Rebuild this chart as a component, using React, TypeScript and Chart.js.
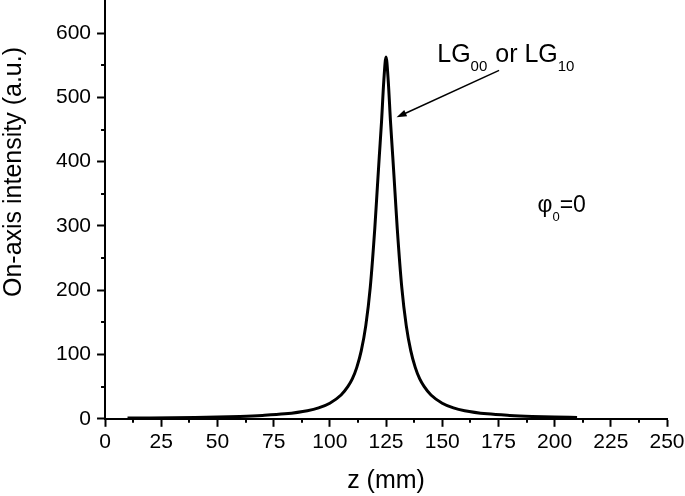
import React, { useEffect, useRef } from 'react';
import { Chart, registerables } from 'chart.js';

Chart.register(...registerables);

// ---- data ----
const zValues = [10, 20, 30, 40, 50, 60, 70, 80, 90, 95, 100, 105, 108, 110, 112, 114, 116, 118, 120, 121, 122, 123, 124, 125, 126, 127, 128, 129, 130, 132, 134, 136, 138, 140, 142, 145, 150, 155, 160, 170, 180, 190, 200, 210];
const intensity = [1.2, 1.4, 1.75, 2.2, 2.8, 3.7, 5.2, 7.7, 12.6, 17, 24.3, 37, 50, 62, 80, 106, 145, 205, 296, 352, 408, 462, 525, 563, 525, 462, 408, 352, 296, 205, 145, 106, 80, 62, 50, 37, 24.3, 17, 12.6, 7.7, 5.2, 3.7, 2.8, 2.2];

const xMinorTicks = [12.5, 37.5, 62.5, 87.5, 112.5, 137.5, 162.5, 187.5, 212.5, 237.5];
const yMinorTicks = [50, 150, 250, 350, 450, 550];

const xTitle = 'z (mm)';
const yTitle = 'On-axis intensity (a.u.)';

// annotation anchors in data units
const arrowFrom = { x: 175.3, y: 542 };
const arrowTo = { x: 129.7, y: 469 };
const lgLabelAt = { x: 147.8, y: 555 };
const phiLabelAt = { x: 192.4, y: 322 };

const FONT = '"Liberation Sans", Arial, Helvetica, sans-serif';

const decorPlugin = {
  id: 'decor',
  afterDraw(chart: any) {
    const ctx = chart.ctx as CanvasRenderingContext2D;
    const xs = chart.scales.x;
    const ys = chart.scales.y;
    const area = chart.chartArea;
    ctx.save();
    ctx.strokeStyle = '#000';
    ctx.fillStyle = '#000';
    ctx.lineWidth = 2;
    // minor ticks
    ctx.beginPath();
    for (const v of xMinorTicks) {
      const px = Math.round(xs.getPixelForValue(v));
      ctx.moveTo(px, area.bottom);
      ctx.lineTo(px, area.bottom + 4);
    }
    for (const v of yMinorTicks) {
      const py = Math.round(ys.getPixelForValue(v));
      ctx.moveTo(area.left, py);
      ctx.lineTo(area.left - 4, py);
    }
    ctx.stroke();

    // y title
    ctx.save();
    ctx.translate(14, 172);
    ctx.rotate(-Math.PI / 2);
    ctx.font = `25px ${FONT}`;
    ctx.textAlign = 'center';
    ctx.textBaseline = 'middle';
    ctx.fillText(yTitle, 0, 0);
    ctx.restore();

    // arrow
    const x1 = xs.getPixelForValue(arrowFrom.x);
    const y1 = ys.getPixelForValue(arrowFrom.y);
    const x2 = xs.getPixelForValue(arrowTo.x);
    const y2 = ys.getPixelForValue(arrowTo.y);
    const ang = Math.atan2(y2 - y1, x2 - x1);
    const headLen = 10;
    const headW = 3.5;
    ctx.lineWidth = 1.5;
    ctx.beginPath();
    ctx.moveTo(x1, y1);
    ctx.lineTo(x2 - Math.cos(ang) * headLen * 0.8, y2 - Math.sin(ang) * headLen * 0.8);
    ctx.stroke();
    ctx.beginPath();
    ctx.moveTo(x2, y2);
    ctx.lineTo(x2 - Math.cos(ang) * headLen - Math.sin(ang) * headW, y2 - Math.sin(ang) * headLen + Math.cos(ang) * headW);
    ctx.lineTo(x2 - Math.cos(ang) * headLen + Math.sin(ang) * headW, y2 - Math.sin(ang) * headLen - Math.cos(ang) * headW);
    ctx.closePath();
    ctx.fill();

    // LG00 or LG10 label
    ctx.textAlign = 'left';
    ctx.textBaseline = 'alphabetic';
    let tx = xs.getPixelForValue(lgLabelAt.x);
    const ty = ys.getPixelForValue(lgLabelAt.y);
    const parts: [string, boolean][] = [['LG', false], ['00', true], [' or LG', false], ['10', true]];
    for (const [txt, sub] of parts) {
      ctx.font = sub ? `15px ${FONT}` : `25px ${FONT}`;
      ctx.fillText(txt, tx, sub ? ty + 9 : ty);
      tx += ctx.measureText(txt).width + (sub ? 1 : 0);
    }

    // phi0=0 label
    let px = xs.getPixelForValue(phiLabelAt.x);
    const py = ys.getPixelForValue(phiLabelAt.y);
    const phiParts: [string, boolean][] = [['φ', false], ['0', true], ['=0', false]];
    for (const [txt, sub] of phiParts) {
      ctx.font = sub ? `13px ${FONT}` : `23px ${FONT}`;
      ctx.fillText(txt, px, sub ? py + 9 : py);
      px += ctx.measureText(txt).width;
    }
    ctx.restore();
  },
};

export default function App() {
  const ref = useRef<HTMLCanvasElement | null>(null);
  useEffect(() => {
    if (!ref.current) return;
    const chart = new Chart(ref.current, {
      type: 'line',
      data: {
        datasets: [
          {
            data: zValues.map((z, i) => ({ x: z, y: intensity[i] })),
            borderColor: '#000',
            borderWidth: 3,
            pointRadius: 0,
            fill: false,
            cubicInterpolationMode: 'monotone',
          },
        ],
      },
      options: {
        responsive: false,
        animation: false,
        events: [],
        layout: { padding: { left: 50, right: 18, top: 1, bottom: 0 } },
        plugins: { legend: { display: false }, tooltip: { enabled: false } },
        scales: {
          x: {
            type: 'linear',
            min: 0,
            max: 250,
            ticks: { stepSize: 25, color: '#000', font: { family: FONT, size: 21 }, padding: 3, maxRotation: 0 },
            grid: { drawOnChartArea: false, drawTicks: true, tickLength: 8, tickWidth: 2, tickColor: '#000' },
            border: { display: true, color: '#000', width: 2 },
            title: { display: true, text: xTitle, color: '#000', font: { family: FONT, size: 25 }, padding: { top: 8, bottom: 0 } },
            afterFit: (s: any) => { s.paddingLeft = 0; s.paddingRight = 0; },
          },
          y: {
            type: 'linear',
            min: 0,
            max: 650,
            ticks: { stepSize: 100, includeBounds: false, color: '#000', font: { family: FONT, size: 21 }, padding: 6 },
            grid: { drawOnChartArea: false, drawTicks: true, tickLength: 8, tickWidth: 2, tickColor: '#000' },
            border: { display: true, color: '#000', width: 2 },
            afterFit: (s: any) => { s.paddingTop = 0; s.paddingBottom = 0; },
          },
        },
      } as any,
      plugins: [decorPlugin],
    });
    return () => chart.destroy();
  }, []);
  return (
    <div style={{ position: 'fixed', left: 0, top: 0, width: 685, height: 496, background: '#fff' }}>
      <canvas ref={ref} width={685} height={496} style={{ width: 685, height: 496, display: 'block' }} />
    </div>
  );
}
